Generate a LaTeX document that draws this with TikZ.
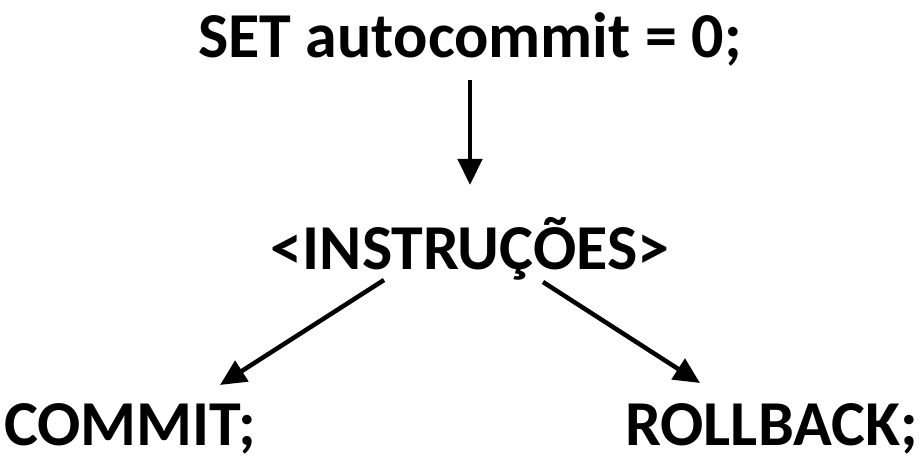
\documentclass[tikz,border=0pt]{standalone}
\usepackage{fontspec}
\setmainfont{Carlito}
\usetikzlibrary{arrows.meta}
\begin{document}
\begin{tikzpicture}[x=1pt,y=1pt,
  label/.style={font=\bfseries\fontsize{64}{64}\selectfont, inner sep=0pt},
  flow/.style={line width=4.5pt, -{Triangle[length=26pt,width=24pt]}}]
\useasboundingbox (0,0) rectangle (922,463);
\node[label, anchor=base] (set) at (470,405) {SET autocommit = 0;};
\node[label, anchor=base] (ins) at (470,193) {<INSTRUÇÕES>};
\node[label, anchor=base west] (commit) at (4,17) {COMMIT;};
\node[label, anchor=base east] (rollback) at (918,17) {ROLLBACK;};
\coordinate (s1) at (470,383);
\coordinate (e1) at (470,278);
\coordinate (s2) at (384,183);
\coordinate (e2) at (220,78);
\coordinate (s3) at (543,181);
\coordinate (e3) at (700,80);
\draw[flow] (s1) -- (e1);
\draw[flow] (s2) -- (e2);
\draw[flow] (s3) -- (e3);
\end{tikzpicture}
\end{document}
